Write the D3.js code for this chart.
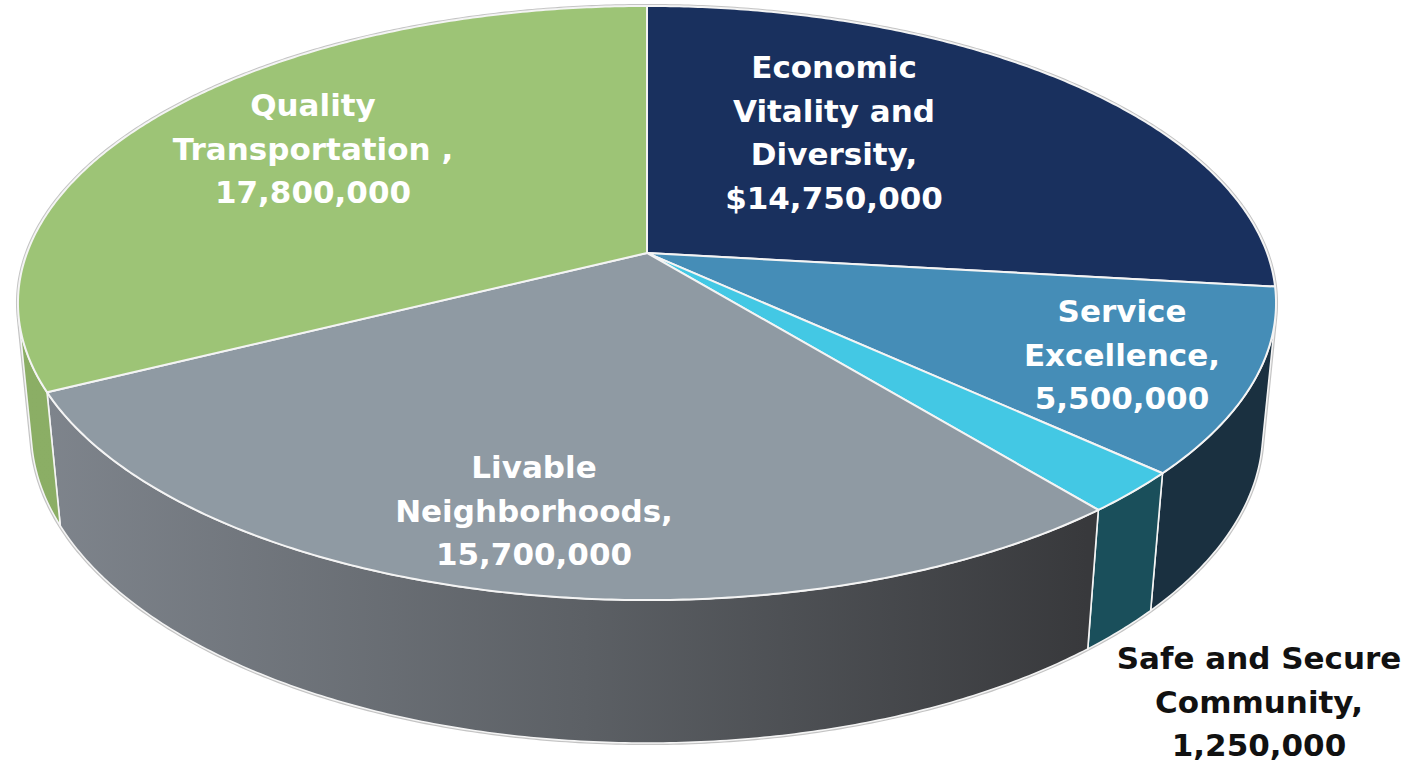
<!DOCTYPE html>
<html>
<head>
<meta charset="utf-8">
<script src="https://cdn.jsdelivr.net/npm/d3@7"></script>
<style>
  body { margin: 0; background: #fff; }
  text { font-family: "DejaVu Sans", sans-serif; font-weight: bold; font-size: 31px; }
</style>
</head>
<body>
<svg width="1427" height="764"></svg>
<script>
// data, clockwise from 12 o'clock
const categories = ['Economic Vitality and Diversity', 'Service Excellence', 'Safe and Secure Community',
                    'Livable Neighborhoods', 'Quality Transportation'];
const values = [14750000, 5500000, 1250000, 15700000, 17800000];
const labelLines = [
    ['Economic', 'Vitality and', 'Diversity,', '$14,750,000'],
    ['Service', 'Excellence,', '5,500,000'],
    ['Safe and Secure', 'Community,', '1,250,000'],
    ['Livable', 'Neighborhoods,', '15,700,000'],
    ['Quality', 'Transportation ,', '17,800,000']
];

const topColors = ['#19305e', '#458db7', '#43c8e4', '#8f9aa3', '#9dc476'];
const wallColors = [['#101f3d', '#101f3d'], ['#1e3a4c', '#1a3040'], ['#1a4f5b', '#1a4f5b'],
                    ['#80868e', '#38393c'], ['#8bae65', '#86a960']];
const labelColors = ['#fff', '#fff', '#111', '#fff', '#fff'];
// where excel put the labels (first baseline)
const labelAnchors = [[834, 78], [1122, 322], [1259, 669], [534, 478], [313, 116]];

const svg = d3.select('svg');

// camera: tilted disc seen in perspective
const cx = 647, cy = 253;
const sinP = 0.4655, cosP = Math.sqrt(1 - sinP * sinP);
const L = 5.256, f = 3259, thick = 0.2353;

const proj = (a, r, y) => {
    const x = r * Math.sin(a), z = -r * Math.cos(a);
    const vy = y - L * sinP, vz = z - L * cosP;
    const yc = vy * cosP - vz * sinP;
    const depth = -(vy * sinP + vz * cosP);
    return [cx + f * x / depth, cy - f * yc / depth];
};

const pie = d3.pie().sort(null).value(d => d)(values);
const line = d3.line();
const step = Math.PI / 360;
const arcPts = (a0, a1, y) => d3.range(a0, a1, step).concat([a1]).map(a => proj(a, 1, y));

// which part of the side wall faces the camera
const va = Math.acos(-1 / (L * cosP));
const vis0 = va, vis1 = 2 * Math.PI - va;

const defs = svg.append('defs');
wallColors.forEach((c, i) => {
    const g = defs.append('linearGradient')
        .attr('id', 'wall' + i)
        .attr('gradientUnits', 'userSpaceOnUse')
        .attr('x1', 18).attr('x2', 1276).attr('y1', 0).attr('y2', 0);
    g.append('stop').attr('offset', 0).attr('stop-color', c[0]);
    g.append('stop').attr('offset', 0.45).attr('stop-color', d3.interpolateRgb(c[0], c[1])(0.5));
    g.append('stop').attr('offset', 0.85).attr('stop-color', c[1]);
    g.append('stop').attr('offset', 1).attr('stop-color', c[1]);
});

// outline halo
const outline = arcPts(0, vis0, 0)
    .concat(arcPts(vis0, vis1, -thick))
    .concat(arcPts(vis1, 2 * Math.PI, 0));
svg.append('path')
    .attr('d', line(outline) + 'Z')
    .attr('fill', 'none')
    .attr('stroke', '#c4c4c4')
    .attr('stroke-width', 4);

// side walls
const walls = svg.append('g');
pie.forEach((p, i) => {
    const a0 = Math.max(p.startAngle, vis0), a1 = Math.min(p.endAngle, vis1);
    if (a1 <= a0) return;
    const pts = arcPts(a0, a1, 0).concat(arcPts(a0, a1, -thick).reverse());
    walls.append('path')
        .attr('d', line(pts) + 'Z')
        .attr('fill', `url(#wall${i})`)
        .attr('stroke', '#f4f4f4')
        .attr('stroke-width', 1.6)
        .attr('stroke-linejoin', 'round');
});

// top faces
const tops = svg.append('g');
pie.forEach((p, i) => {
    const pts = [proj(0, 0, 0)].concat(arcPts(p.startAngle, p.endAngle, 0));
    tops.append('path')
        .attr('d', line(pts) + 'Z')
        .attr('fill', topColors[i])
        .attr('stroke', '#f4f4f4')
        .attr('stroke-width', 2)
        .attr('stroke-linejoin', 'round');
});

// labels
const labels = svg.append('g');
labelLines.forEach((lines, i) => {
    const t = labels.append('text')
        .attr('text-anchor', 'middle')
        .attr('fill', labelColors[i]);
    lines.forEach((s, j) => {
        t.append('tspan')
            .attr('x', labelAnchors[i][0])
            .attr('y', labelAnchors[i][1] + j * 43.5)
            .text(s);
    });
});
</script>
</body>
</html>
